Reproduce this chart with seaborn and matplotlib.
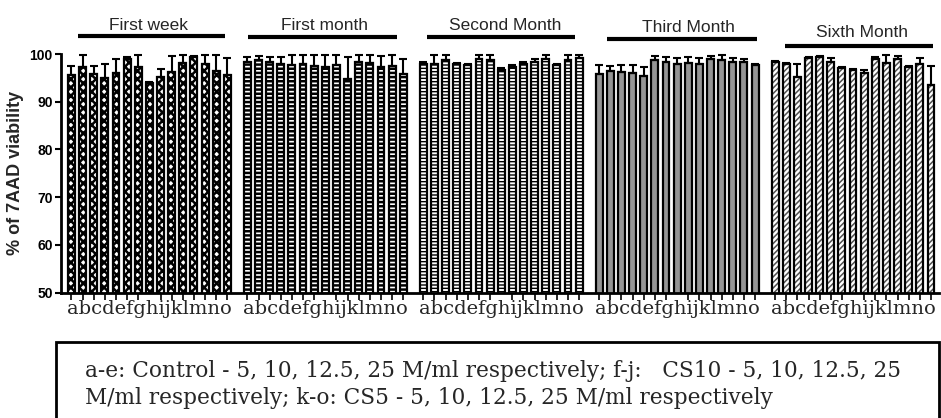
import numpy as np
import pandas as pd
import matplotlib
matplotlib.use("Agg")
import matplotlib.pyplot as plt
import matplotlib.colors as mcolors
from matplotlib.patches import Rectangle
from matplotlib.transforms import blended_transform_factory
import seaborn as sns

# ---------------- data ----------------
periods = ["First week", "First month", "Second Month", "Third Month", "Sixth Month"]
letters = list("abcdefghijklmno")

first_week   = [95.6, 97.3, 95.8, 94.9, 96.1, 98.9, 97.3, 94.0, 95.2, 96.3, 98.2, 99.3, 98.0, 96.4, 95.6]
first_week_err   = [1.9, 2.5, 1.7, 3.1, 2.9, 0.5, 2.5, 0.2, 1.6, 3.3, 1.6, 0.3, 1.8, 3.4, 3.5]
first_month  = [98.4, 98.7, 98.3, 97.9, 97.7, 97.9, 97.5, 97.3, 97.7, 94.7, 98.3, 98.2, 97.3, 97.5, 95.8]
first_month_err  = [1.0, 0.9, 1.1, 1.5, 2.1, 1.9, 2.3, 2.5, 2.1, 4.7, 1.5, 1.6, 2.3, 2.3, 3.2]
second_month = [98.0, 97.9, 98.7, 97.9, 97.6, 98.9, 98.7, 96.6, 97.3, 97.9, 98.4, 98.9, 97.6, 98.7, 99.2]
second_month_err = [0.3, 1.9, 1.1, 0.2, 0.4, 0.9, 1.1, 0.4, 0.5, 0.5, 0.5, 0.9, 0.4, 1.1, 0.6]
third_month  = [95.8, 96.5, 96.3, 96.1, 95.4, 98.7, 98.3, 98.0, 98.2, 98.0, 98.9, 98.7, 98.4, 98.4, 97.7]
third_month_err  = [1.9, 1.0, 1.4, 1.6, 1.8, 0.9, 1.1, 1.1, 1.2, 1.1, 0.7, 1.1, 0.7, 0.5, 0.3]
sixth_month  = [98.4, 97.9, 95.1, 99.1, 99.4, 98.4, 97.0, 96.6, 96.1, 98.9, 98.2, 98.9, 97.3, 98.0, 93.5]
sixth_month_err  = [0.2, 0.2, 2.9, 0.3, 0.2, 0.7, 0.2, 0.2, 0.5, 0.4, 1.6, 0.7, 0.2, 1.1, 4.0]

values = [first_week, first_month, second_month, third_month, sixth_month]
errors = [first_week_err, first_month_err, second_month_err, third_month_err, sixth_month_err]

yticks = [50, 60, 70, 80, 90, 100]
ylabel = "% of 7AAD viability"
legend_lines = [
    "a-e: Control - 5, 10, 12.5, 25 M/ml respectively; f-j:   CS10 - 5, 10, 12.5, 25",
    "M/ml respectively; k-o: CS5 - 5, 10, 12.5, 25 M/ml respectively",
]

# ---------------- layout / style ----------------
GROUP_STEP = 15.8
rows = []
for g, (name, vals, errs) in enumerate(zip(periods, values, errors)):
    for i, (lab, v, e) in enumerate(zip(letters, vals, errs)):
        rows.append(dict(period=name, letter=lab, pos=g * GROUP_STEP + i, value=v, err=e))
df = pd.DataFrame(rows)

sns.set_style("ticks")
plt.rcParams["font.family"] = ["Liberation Sans", "DejaVu Sans"]
plt.rcParams["hatch.linewidth"] = 1.3

W, H = 941, 418
fig = plt.figure(figsize=(W / 100, H / 100), dpi=100)
ax = fig.add_axes([61 / W, 1 - 292.7 / H, (939 - 61) / W, (292.7 - 54) / H])

sns.barplot(data=df, x="pos", y="value", native_scale=True, width=0.62,
            color="white", edgecolor="black", linewidth=1.6,
            errorbar=None, ax=ax, zorder=2)

group_styles = [
    dict(face="white", hatch="xxxx", hc="black", hlw=1.8),
    dict(face="white", hatch="----", hc="black", hlw=1.8),
    dict(face="white", hatch="-----", hc="black", hlw=1.0),
    dict(face="#959595", hatch="", hc="black", hlw=1.0),
    dict(face="white", hatch="//////", hc="#505050", hlw=1.1),
]
for p in ax.patches:
    c = p.get_x() + p.get_width() / 2
    g = int((c + 0.5) // GROUP_STEP)
    st = group_styles[g]
    p.set_facecolor(st["face"])
    p.set_edgecolor("black")
    p.set_linewidth(1.6)
    if st["hatch"]:
        p.set_hatch(st["hatch"])
        p._hatch_color = mcolors.to_rgba(st["hc"])
        if hasattr(p, "set_hatch_linewidth"):
            p.set_hatch_linewidth(st["hlw"])

eb = ax.errorbar(df["pos"], df["value"], yerr=[np.zeros(len(df)), df["err"]],
                 fmt="none", ecolor="black", elinewidth=1.5, capsize=2.6,
                 capthick=1.5, zorder=3)
for art in eb.get_children():
    art.set_clip_on(False)

ax.set_xlim(-0.94, 4 * GROUP_STEP + 14 + 0.72)
ax.set_ylim(50, 100)
ax.set_yticks(yticks)
ax.set_yticklabels([str(t) for t in yticks], fontweight="bold", fontsize=10)
ax.tick_params(axis="y", length=4, width=1.5, pad=2, colors="black")

centers = [g * GROUP_STEP + 7 for g in range(len(periods))]
ax.set_xticks(df["pos"], minor=True)
ax.set_xticks(centers)
ax.set_xticklabels(["".join(letters)] * len(periods), fontfamily="DejaVu Serif", fontsize=14)
ax.tick_params(axis="x", which="minor", length=5, width=1.4, direction="out")
ax.tick_params(axis="x", which="major", length=0, pad=5)
ax.set_xlabel("")
ax.set_ylabel(ylabel, fontweight="bold", fontsize=13, labelpad=4)

for side in ["top", "right"]:
    ax.spines[side].set_visible(False)
for side in ["left", "bottom"]:
    ax.spines[side].set_linewidth(2)
    ax.spines[side].set_color("black")

# period headers with bars
trans = blended_transform_factory(ax.transData, ax.transAxes)
hdr_x0 = [0.6, 0.05, 0.35, 0.7, 0.9]
hdr_x1 = [13.8, 13.45, 13.65, 14.2, 14.2]
hdr_tx = [6.9, 6.9, 7.35, 8.0, 7.8]
line_y = [1.075, 1.071, 1.071, 1.063, 1.034]
text_y = [1.121, 1.121, 1.121, 1.113, 1.088]
for g, name in enumerate(periods):
    base = g * GROUP_STEP
    ax.plot([base + hdr_x0[g], base + hdr_x1[g]], [line_y[g]] * 2, transform=trans,
            color="black", lw=3, clip_on=False, solid_capstyle="butt")
    ax.text(base + hdr_tx[g], text_y[g], name, transform=trans, ha="center",
            va="center", fontsize=12.5, clip_on=False)

# legend box
fig.add_artist(Rectangle((56 / W, -0.1), (939 - 56) / W, (1 - 342 / H) + 0.1,
                         transform=fig.transFigure, fill=False, lw=2, edgecolor="black"))
for k, (txt, yy) in enumerate(zip(legend_lines, [371, 398])):
    fig.text(85 / W, 1 - yy / H, txt, ha="left", va="center",
             fontfamily="DejaVu Serif", fontsize=15.6)

fig.savefig("out.png", dpi=100)
